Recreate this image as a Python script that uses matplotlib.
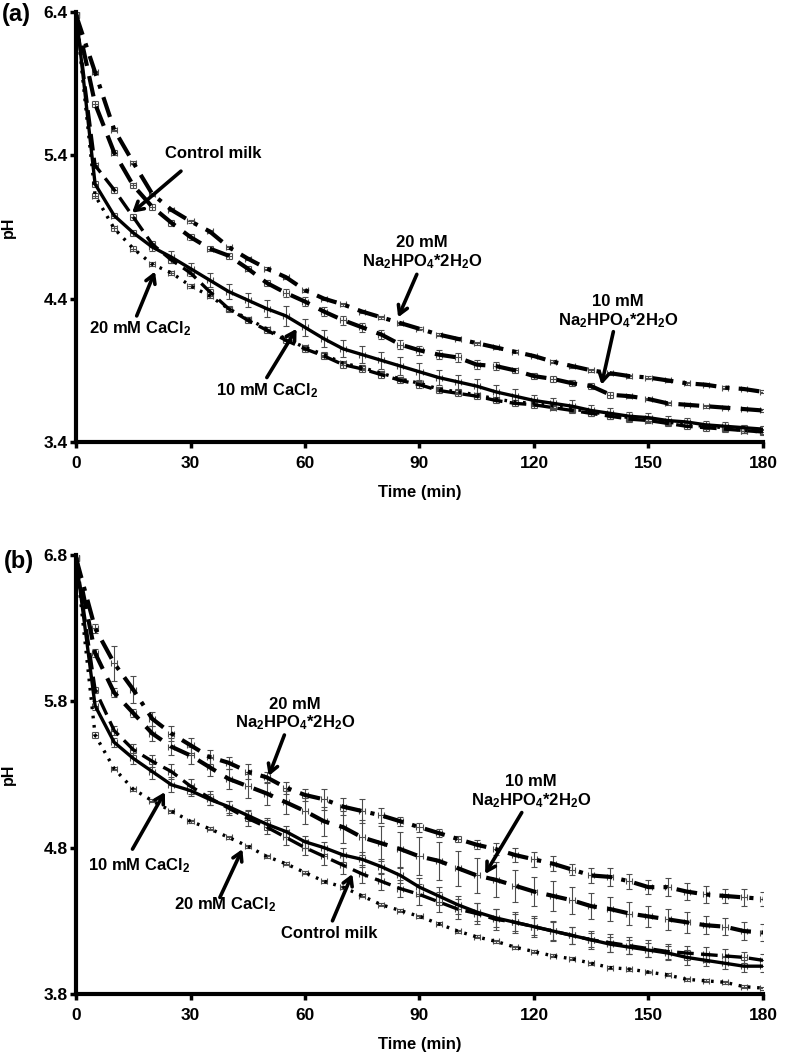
import matplotlib

matplotlib.use("Agg")  # headless
import matplotlib.pyplot as plt

plt.rcParams["font.family"] = ["Liberation Sans", "DejaVu Sans"]
plt.rcParams["font.weight"] = "bold"
plt.rcParams["axes.labelweight"] = "bold"
plt.rcParams["mathtext.fontset"] = "custom"
plt.rcParams["mathtext.rm"] = "Liberation Sans:bold"
plt.rcParams["mathtext.bf"] = "Liberation Sans:bold"
plt.rcParams["mathtext.default"] = "bf"

# sampling times (min)
time = [0, 5, 10, 15, 20, 25, 30, 35, 40, 45, 50, 55, 60, 65, 70, 75, 80, 85, 90,
        95, 100, 105, 110, 115, 120, 125, 130, 135, 140, 145, 150, 155, 160, 165,
        170, 175, 180]

# ---- panel (a) ----
a_ctrl = [6.38, 5.33, 5.16, 4.97, 4.78, 4.67, 4.58, 4.45, 4.33, 4.25, 4.18, 4.11, 4.05,
          4.00, 3.94, 3.91, 3.87, 3.83, 3.80, 3.76, 3.74, 3.72, 3.69, 3.67, 3.66, 3.64,
          3.62, 3.60, 3.58, 3.56, 3.55, 3.53, 3.51, 3.50, 3.49, 3.48, 3.47]
a_cacl10 = [6.40, 5.20, 4.98, 4.86, 4.76, 4.69, 4.61, 4.53, 4.45, 4.39, 4.33, 4.28, 4.20,
            4.12, 4.05, 4.01, 3.97, 3.93, 3.89, 3.85, 3.82, 3.79, 3.75, 3.72, 3.69, 3.67,
            3.65, 3.62, 3.60, 3.58, 3.57, 3.55, 3.54, 3.52, 3.51, 3.50, 3.49]
a_cacl20 = [6.38, 5.12, 4.89, 4.75, 4.64, 4.58, 4.49, 4.42, 4.33, 4.26, 4.19, 4.12, 4.06,
            4.01, 3.95, 3.92, 3.88, 3.84, 3.81, 3.77, 3.75, 3.73, 3.70, 3.68, 3.67, 3.65,
            3.63, 3.61, 3.59, 3.57, 3.56, 3.54, 3.52, 3.51, 3.50, 3.48, 3.47]
a_na10 = [6.38, 5.76, 5.42, 5.19, 5.04, 4.93, 4.83, 4.75, 4.70, 4.61, 4.51, 4.44, 4.38,
          4.31, 4.25, 4.20, 4.15, 4.08, 4.04, 4.01, 3.99, 3.94, 3.93, 3.90, 3.86, 3.84,
          3.81, 3.79, 3.73, 3.72, 3.70, 3.67, 3.66, 3.65, 3.64, 3.63, 3.62]
a_na20 = [6.38, 5.98, 5.58, 5.35, 5.13, 5.02, 4.94, 4.87, 4.76, 4.68, 4.61, 4.55, 4.46,
          4.40, 4.36, 4.31, 4.27, 4.23, 4.19, 4.15, 4.12, 4.09, 4.06, 4.03, 4.00, 3.96,
          3.93, 3.90, 3.88, 3.86, 3.85, 3.83, 3.81, 3.80, 3.78, 3.77, 3.75]

a_ctrl_sd = [0.0, 0.02, 0.02, 0.02, 0.02, 0.02, 0.02, 0.02, 0.02, 0.02, 0.02, 0.02, 0.02,
             0.02, 0.02, 0.02, 0.02, 0.02, 0.02, 0.02, 0.02, 0.02, 0.02, 0.02, 0.02, 0.02,
             0.02, 0.02, 0.02, 0.02, 0.02, 0.02, 0.02, 0.02, 0.02, 0.02, 0.02]
a_cacl10_sd = [0.0, 0.02, 0.02, 0.02, 0.03, 0.04, 0.04, 0.05, 0.05, 0.05, 0.06, 0.07, 0.06,
               0.06, 0.06, 0.06, 0.06, 0.06, 0.06, 0.05, 0.05, 0.05, 0.05, 0.05, 0.04, 0.04,
               0.04, 0.04, 0.04, 0.03, 0.03, 0.03, 0.03, 0.03, 0.03, 0.02, 0.02]
a_cacl20_sd = [0.0, 0.015, 0.015, 0.02, 0.015, 0.015, 0.015, 0.015, 0.015, 0.015, 0.015,
               0.015, 0.015, 0.015, 0.015, 0.015, 0.015, 0.015, 0.015, 0.015, 0.015, 0.015,
               0.015, 0.015, 0.015, 0.015, 0.015, 0.015, 0.015, 0.015, 0.015, 0.015, 0.015,
               0.015, 0.015, 0.015, 0.015]
a_na10_sd = [0.0, 0.02, 0.02, 0.02, 0.02, 0.02, 0.02, 0.02, 0.02, 0.02, 0.02, 0.03, 0.03,
             0.03, 0.03, 0.03, 0.03, 0.03, 0.03, 0.03, 0.03, 0.03, 0.03, 0.02, 0.02, 0.02,
             0.02, 0.02, 0.02, 0.01, 0.01, 0.01, 0.01, 0.01, 0.01, 0.01, 0.01]
a_na20_sd = [0.0, 0.01, 0.01, 0.01, 0.01, 0.01, 0.01, 0.01, 0.01, 0.01, 0.01, 0.01, 0.01,
             0.01, 0.01, 0.01, 0.01, 0.01, 0.01, 0.01, 0.01, 0.01, 0.01, 0.01, 0.01, 0.01,
             0.01, 0.01, 0.01, 0.01, 0.01, 0.01, 0.01, 0.01, 0.01, 0.01, 0.01]

# ---- panel (b) ----
b_ctrl = [6.78, 5.88, 5.60, 5.47, 5.39, 5.32, 5.22, 5.14, 5.07, 5.00, 4.94, 4.87, 4.80,
          4.74, 4.68, 4.62, 4.57, 4.52, 4.48, 4.43, 4.38, 4.35, 4.31, 4.29, 4.26, 4.23,
          4.20, 4.17, 4.15, 4.13, 4.11, 4.09, 4.08, 4.07, 4.06, 4.05, 4.03]
b_cacl10 = [6.78, 5.77, 5.52, 5.41, 5.32, 5.23, 5.19, 5.13, 5.08, 5.02, 4.96, 4.91, 4.84,
            4.80, 4.75, 4.72, 4.67, 4.61, 4.53, 4.47, 4.41, 4.36, 4.32, 4.29, 4.26, 4.23,
            4.20, 4.17, 4.14, 4.12, 4.10, 4.08, 4.05, 4.03, 4.01, 3.99, 3.99]
b_cacl20 = [6.78, 5.57, 5.34, 5.20, 5.12, 5.05, 4.98, 4.93, 4.87, 4.81, 4.74, 4.69, 4.63,
            4.57, 4.53, 4.47, 4.41, 4.37, 4.33, 4.28, 4.23, 4.19, 4.16, 4.12, 4.09, 4.06,
            4.04, 4.01, 3.98, 3.97, 3.95, 3.93, 3.90, 3.89, 3.88, 3.85, 3.84]
b_na10 = [6.78, 6.13, 5.86, 5.72, 5.58, 5.49, 5.43, 5.35, 5.27, 5.22, 5.17, 5.11, 5.05,
          4.98, 4.94, 4.87, 4.83, 4.79, 4.74, 4.71, 4.66, 4.61, 4.58, 4.54, 4.50, 4.47,
          4.44, 4.40, 4.38, 4.35, 4.33, 4.31, 4.29, 4.27, 4.26, 4.23, 4.22]
b_na20 = [6.78, 6.30, 6.06, 5.88, 5.68, 5.58, 5.50, 5.42, 5.38, 5.32, 5.28, 5.21, 5.16,
          5.13, 5.08, 5.05, 5.02, 4.98, 4.94, 4.90, 4.86, 4.82, 4.79, 4.75, 4.72, 4.69,
          4.65, 4.61, 4.60, 4.57, 4.53, 4.53, 4.50, 4.48, 4.47, 4.46, 4.45]

b_ctrl_sd = [0.0, 0.02, 0.03, 0.04, 0.04, 0.05, 0.05, 0.05, 0.05, 0.05, 0.05, 0.05, 0.05,
             0.06, 0.06, 0.06, 0.06, 0.06, 0.07, 0.07, 0.07, 0.07, 0.07, 0.07, 0.07, 0.07,
             0.06, 0.06, 0.06, 0.06, 0.06, 0.05, 0.05, 0.05, 0.05, 0.04, 0.04]
b_cacl10_sd = [0.0, 0.03, 0.03, 0.04, 0.05, 0.05, 0.04, 0.04, 0.04, 0.04, 0.04, 0.04, 0.04,
               0.04, 0.05, 0.05, 0.05, 0.05, 0.06, 0.06, 0.06, 0.06, 0.06, 0.06, 0.06, 0.06,
               0.06, 0.05, 0.05, 0.05, 0.05, 0.05, 0.05, 0.04, 0.04, 0.04, 0.04]
b_cacl20_sd = [0.0, 0.02, 0.01, 0.01, 0.01, 0.01, 0.01, 0.01, 0.01, 0.01, 0.01, 0.01, 0.01,
               0.01, 0.01, 0.01, 0.01, 0.01, 0.01, 0.01, 0.01, 0.01, 0.01, 0.01, 0.01, 0.01,
               0.01, 0.01, 0.01, 0.01, 0.01, 0.01, 0.01, 0.01, 0.01, 0.01, 0.01]
b_na10_sd = [0.0, 0.03, 0.03, 0.03, 0.05, 0.06, 0.06, 0.06, 0.07, 0.08, 0.08, 0.08, 0.09,
             0.10, 0.11, 0.12, 0.12, 0.12, 0.13, 0.13, 0.12, 0.12, 0.12, 0.11, 0.10, 0.10,
             0.09, 0.09, 0.08, 0.08, 0.07, 0.07, 0.07, 0.06, 0.06, 0.06, 0.06]
b_na20_sd = [0.0, 0.03, 0.12, 0.09, 0.05, 0.05, 0.05, 0.05, 0.04, 0.05, 0.04, 0.04, 0.04,
             0.07, 0.06, 0.08, 0.05, 0.03, 0.03, 0.03, 0.02, 0.03, 0.04, 0.05, 0.05, 0.05,
             0.04, 0.05, 0.06, 0.05, 0.05, 0.06, 0.06, 0.06, 0.05, 0.06, 0.05]

X_SD = 0.8  # small horizontal bars on every point

NA20 = "20 mM\nNa$_2$HPO$_4$*2H$_2$O"
NA10 = "10 mM\nNa$_2$HPO$_4$*2H$_2$O"
CA10 = "10 mM CaCl$_2$"
CA20 = "20 mM CaCl$_2$"
CTRL = "Control milk"

STYLES = {
    "ctrl": dict(ls=(0, (5, 2.2)), lw=2.4),
    "cacl10": dict(ls="-", lw=2.4),
    "cacl20": dict(ls=(0, (0.8, 2.0)), lw=2.4),
    "na10": dict(ls=(0, (5, 2.5)), lw=3.0),
    "na20": dict(ls=(0, (5, 2.2, 1.0, 2.2)), lw=3.0),
}


def draw_series(ax, vals, sd, key):
    ax.errorbar(time, vals, yerr=sd, xerr=X_SD, fmt="none", ecolor="0.3",
                elinewidth=0.8, capsize=2.2, capthick=0.8, zorder=2)
    ax.plot(time, vals, color="black", solid_capstyle="butt",
            dash_capstyle="butt", zorder=3, **STYLES[key])


def style_axes(ax, yticks, xpad):
    ax.set_xlim(0, 180)
    ax.set_ylim(yticks[0], yticks[-1])
    ax.set_xticks([0, 30, 60, 90, 120, 150, 180])
    ax.set_yticks(yticks)
    ax.set_yticklabels([f"{v:.1f}" for v in yticks])
    for s in ("top", "right"):
        ax.spines[s].set_visible(False)
    for s in ("left", "bottom"):
        ax.spines[s].set_linewidth(3)
    ax.tick_params(axis="both", direction="out", length=4, width=2.5,
                   labelsize=12.5)
    ax.tick_params(axis="y", pad=2)
    ax.tick_params(axis="x", pad=xpad)
    for t in ax.get_xticklabels() + ax.get_yticklabels():
        t.set_fontweight("bold")
    ax.set_ylabel("pH", fontsize=11.5, fontweight="bold", labelpad=20)
    ax.set_xlabel("Time (min)", fontsize=12, fontweight="bold")


def label(ax, text, pos, tail, tip):
    ax.text(pos[0], pos[1], text, ha="center", va="center", fontsize=12,
            fontweight="bold", linespacing=1.15, zorder=5)
    ax.annotate("", xy=tip, xytext=tail,
                arrowprops=dict(arrowstyle="->,head_length=0.6,head_width=0.35",
                                lw=2.6, color="black", shrinkA=0, shrinkB=0),
                zorder=5)


fig = plt.figure(figsize=(7.86, 10.59), dpi=100)
ax_a = fig.add_axes([0.0967, 0.5826, 0.874, 0.406])
ax_b = fig.add_axes([0.0967, 0.0614, 0.874, 0.4145])

# panel (a)
draw_series(ax_a, a_cacl20, a_cacl20_sd, "cacl20")
draw_series(ax_a, a_ctrl, a_ctrl_sd, "ctrl")
draw_series(ax_a, a_cacl10, a_cacl10_sd, "cacl10")
draw_series(ax_a, a_na10, a_na10_sd, "na10")
draw_series(ax_a, a_na20, a_na20_sd, "na20")
style_axes(ax_a, [3.4, 4.4, 5.4, 6.4], 6)
ax_a.xaxis.labelpad = 10

label(ax_a, CTRL, (36.0, 5.41), (27.5, 5.29), (14.7, 5.00))
label(ax_a, CA20, (16.8, 4.19), (15.9, 4.28), (20.7, 4.59))
label(ax_a, CA10, (50.0, 3.76), (50.0, 3.85), (57.8, 4.19))
label(ax_a, NA20, (90.6, 4.72), (89.3, 4.57), (84.4, 4.27))
label(ax_a, NA10, (142.0, 4.31), (140.8, 4.17), (137.7, 3.80))

# panel (b)
draw_series(ax_b, b_cacl20, b_cacl20_sd, "cacl20")
draw_series(ax_b, b_ctrl, b_ctrl_sd, "ctrl")
draw_series(ax_b, b_cacl10, b_cacl10_sd, "cacl10")
draw_series(ax_b, b_na10, b_na10_sd, "na10")
draw_series(ax_b, b_na20, b_na20_sd, "na20")
style_axes(ax_b, [3.8, 4.8, 5.8, 6.8], 6)
ax_b.xaxis.labelpad = 10

label(ax_b, NA20, (57.4, 5.71), (54.6, 5.57), (50.5, 5.29))
label(ax_b, NA10, (119.2, 5.18), (116.8, 5.04), (107.2, 4.62))
label(ax_b, CA10, (16.5, 4.68), (14.8, 4.79), (23.3, 5.18))
label(ax_b, CA20, (39.0, 4.41), (37.7, 4.46), (43.6, 4.79))
label(ax_b, CTRL, (66.3, 4.21), (67.2, 4.30), (72.4, 4.62))

fig.text(0.003, 0.986, "(a)", fontsize=17, fontweight="bold", ha="left", va="center")
fig.text(0.005, 0.470, "(b)", fontsize=17, fontweight="bold", ha="left", va="center")

fig.savefig("out.png", dpi=100)
plt.close(fig)
